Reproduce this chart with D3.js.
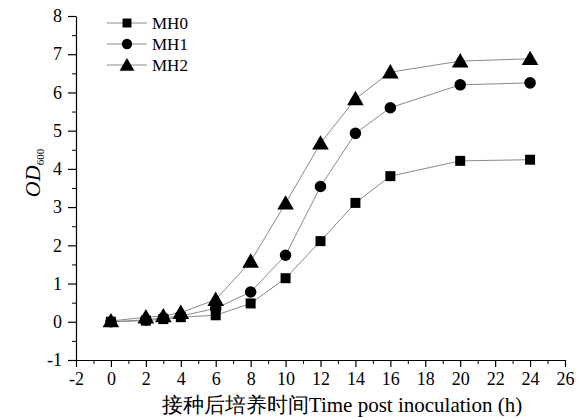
<!DOCTYPE html>
<html>
<head>
<meta charset="utf-8">
<script src="https://cdn.jsdelivr.net/npm/d3@7"></script>
<style>
  body { margin: 0; background: #fff; }
  text { font-family: "Liberation Serif", "Times New Roman", serif; fill: #000; }
</style>
</head>
<body>
<div id="chart"></div>
<script>
// time points (h)
const hours = [0, 2, 3, 4, 6, 8, 10, 12, 14, 16, 20, 24];
// OD600 readings
const mh0 = [0.0, 0.03, 0.07, 0.12, 0.17, 0.48, 1.14, 2.11, 3.11, 3.81, 4.21, 4.24];
const mh1 = [0.0, 0.05, 0.1, 0.15, 0.35, 0.78, 1.74, 3.54, 4.93, 5.6, 6.2, 6.25];
const mh2 = [0.02, 0.12, 0.15, 0.24, 0.58, 1.58, 3.1, 4.67, 5.83, 6.53, 6.82, 6.88];
const seriesNames = ["MH0", "MH1", "MH2"];
const xTicks = [-2, 0, 2, 4, 6, 8, 10, 12, 14, 16, 18, 20, 22, 24, 26];
const yTicks = [-1, 0, 1, 2, 3, 4, 5, 6, 7, 8];

let margin = {top: 16, right: 23, bottom: 58, left: 76},
    width = 588 - margin.left - margin.right,
    height = 418 - margin.top - margin.bottom;

const svg = d3.select("#chart")
  .append("svg")
    .attr("width", 588)
    .attr("height", 418)
  .append("g")
    .attr("transform", "translate(" + margin.left + "," + margin.top + ")");

let x = d3.scaleLinear().domain([-2, 26]).range([0, width]);
let y = d3.scaleLinear().domain([-1, 8]).range([height, 0]);

// minor ticks first, then major ones on top
svg.append("g")
  .attr("transform", "translate(0," + height + ")")
  .call(d3.axisBottom(x).tickValues(d3.range(-1, 26, 2)).tickSize(4).tickFormat(""))
  .call(g => g.select(".domain").remove());
svg.append("g")
  .call(d3.axisLeft(y).tickValues(d3.range(-0.5, 8, 1)).tickSize(4).tickFormat(""))
  .call(g => g.select(".domain").remove());

let xAxis = svg.append("g")
  .attr("transform", "translate(0," + height + ")")
  .call(d3.axisBottom(x).tickValues(xTicks).tickSize(7).tickSizeOuter(0).tickPadding(5)
    .tickFormat(d => String(d)));
let yAxis = svg.append("g")
  .call(d3.axisLeft(y).tickValues(yTicks).tickSize(8).tickSizeOuter(0).tickPadding(6)
    .tickFormat(d => String(d)));

[xAxis, yAxis].forEach(a => {
  a.attr("font-family", "Liberation Serif");
  a.selectAll("text").style("font-size", "18px").style("font-family", "Liberation Serif");
  a.selectAll("line, path").attr("stroke", "#000").attr("stroke-width", 1.2);
});

// axis titles
svg.append("text")
  .attr("x", 266)
  .attr("y", height + 52)
  .attr("text-anchor", "middle")
  .style("font-size", "21px")
  .text("接种后培养时间Time post inoculation (h)");

let ylab = svg.append("text")
  .attr("transform", "rotate(-90)")
  .attr("x", -173 + margin.top)
  .attr("y", -36)
  .attr("text-anchor", "middle")
  .style("font-size", "22px");
ylab.append("tspan").style("font-style", "italic").text("OD");
ylab.append("tspan").attr("dy", 4).style("font-size", "11px").text("600");

const allSeries = [mh0, mh1, mh2];
const symbols = [d3.symbolSquare, d3.symbolCircle, d3.symbolTriangle];
const symSizes = [100, 105, 120];

let line = d3.line()
  .x((d, i) => x(hours[i]))
  .y(d => y(d));

allSeries.forEach((vals, k) => {
  svg.append("path")
    .datum(vals)
    .attr("d", line)
    .attr("fill", "none")
    .attr("stroke", "#8a8a8a")
    .attr("stroke-width", 1);
});

allSeries.forEach((vals, k) => {
  svg.append("g")
    .selectAll("path")
    .data(vals)
    .enter()
    .append("path")
      .attr("d", d3.symbol().type(symbols[k]).size(symSizes[k]))
      .attr("transform", (d, i) => "translate(" + x(hours[i]) + "," + (y(d) + (k == 2 ? 1.5 : 0)) + ")")
      .attr("fill", "#000");
});

// legend
let legend = svg.append("g").attr("transform", "translate(31,7)");
seriesNames.forEach((name, k) => {
  let row = legend.append("g").attr("transform", "translate(0," + (k * 21) + ")");
  row.append("line")
    .attr("x1", 0).attr("x2", 40)
    .attr("stroke", "#8a8a8a").attr("stroke-width", 1);
  row.append("path")
    .attr("d", d3.symbol().type(symbols[k]).size(symSizes[k] * 0.8))
    .attr("transform", "translate(20," + (k == 2 ? 1.5 : 0) + ")")
    .attr("fill", "#000");
  row.append("text")
    .attr("x", 45)
    .attr("y", 6)
    .style("font-size", "17px")
    .text(name);
});
</script>
</body>
</html>
